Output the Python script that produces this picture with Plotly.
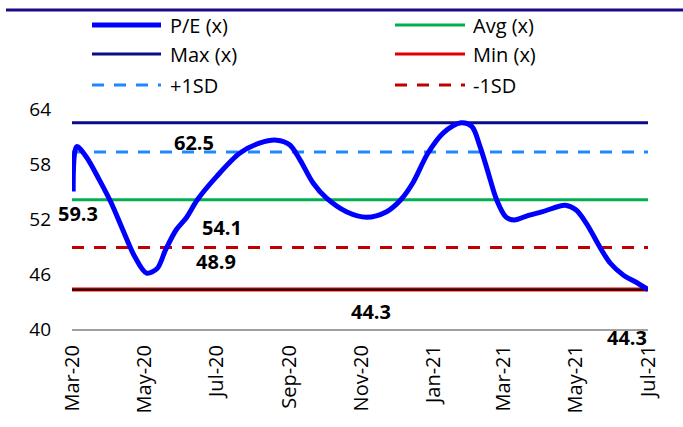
import plotly.graph_objects as go

# P/E (x) history
pe_dates = [
    "2020-03-02", "2020-03-05", "2020-03-13", "2020-03-24", "2020-04-03",
    "2020-04-13", "2020-04-23", "2020-05-03", "2020-05-12",
    "2020-05-19", "2020-05-28", "2020-06-06", "2020-06-15", "2020-07-01",
    "2020-07-21", "2020-08-07", "2020-08-21", "2020-09-01", "2020-09-10",
    "2020-09-21", "2020-10-02", "2020-10-19", "2020-11-05", "2020-11-22",
    "2020-12-04", "2020-12-14", "2020-12-27", "2021-01-09", "2021-01-24",
    "2021-02-02", "2021-02-09", "2021-02-16", "2021-02-23", "2021-03-03",
    "2021-03-10", "2021-03-22", "2021-04-03", "2021-04-22", "2021-05-01",
    "2021-05-10", "2021-05-21", "2021-05-30", "2021-06-10", "2021-06-21",
    "2021-07-01",
]
pe_values = [
    55.0, 59.9, 58.8, 56.3, 53.8,
    50.8, 47.9, 46.1, 46.6,
    48.6, 50.8, 52.2, 54.1, 56.6,
    59.2, 60.3, 60.6, 60.1, 58.4,
    55.9, 54.3, 52.8, 52.2, 52.8,
    54.1, 55.9, 59.2, 61.4, 62.5,
    62.1, 59.9, 57.0, 54.1, 52.2,
    51.9, 52.4, 52.8, 53.5, 53.0,
    51.5, 49.0, 47.2, 45.9, 45.1,
    44.3,
]

# Summary statistics
max_pe = 62.5
avg_pe = 54.1
min_pe = 44.3
plus_1sd = 59.3
minus_1sd = 48.9

x_start, x_end = "2020-03-01", "2021-07-01"
tick_dates = ["2020-03-01", "2020-05-01", "2020-07-01", "2020-09-01", "2020-11-01",
              "2021-01-01", "2021-03-01", "2021-05-01", "2021-07-01"]
tick_labels = ["Mar-20", "May-20", "Jul-20", "Sep-20", "Nov-20",
               "Jan-21", "Mar-21", "May-21", "Jul-21"]
y_ticks = [40, 46, 52, 58, 64]

C_PE = "#0000FF"
C_MAX = "#0A0A8C"
C_AVG = "#00B050"
C_MIN = "#E00000"
C_P1 = "#1E88FF"
C_M1 = "#C00000"

FONT = "Open Sans"

W, H = 683, 427
ML, MR, MT, MB = 72, 35, 109, 98
PW, PH = W - ML - MR, H - MT - MB


def px_x(px):
    return (px - ML) / PW


def px_y(py):
    return (H - MB - py) / PH


fig = go.Figure()


def hline(value, color, width, dash="solid"):
    fig.add_trace(go.Scatter(
        x=[x_start, x_end], y=[value, value], mode="lines",
        line=dict(color=color, width=width, dash=dash),
        hoverinfo="skip", showlegend=False,
    ))


hline(max_pe, C_MAX, 3)
hline(avg_pe, C_AVG, 2.8)
hline(min_pe, C_MIN, 4)
hline(min_pe, "#000000", 1.6)
hline(plus_1sd, C_P1, 3, "12px,10px")
hline(minus_1sd, C_M1, 3, "12px,10px")

fig.add_trace(go.Scatter(
    x=pe_dates, y=pe_values, mode="lines",
    line=dict(color=C_PE, width=5, shape="spline", smoothing=0.9),
    showlegend=False,
))

# Value labels
label_font = dict(family=FONT, size=20, color="#000000", weight="bold")
value_labels = [
    ("2020-06-12", max_pe, -20),
    ("2020-03-06", plus_1sd, -61),
    ("2020-07-06", avg_pe, -28),
    ("2020-07-01", minus_1sd, -14),
    ("2020-11-09", min_pe, -22),
    ("2021-06-13", pe_values[-1], -48),
]
for xd, v, dy in value_labels:
    fig.add_annotation(x=xd, y=v, text=f"{v:.1f}", showarrow=False,
                       yshift=dy, font=label_font, xanchor="center", yanchor="middle")

# Header rule
fig.add_shape(type="line", xref="paper", yref="paper",
              x0=px_x(6), x1=px_x(683), y0=px_y(10), y1=px_y(10),
              line=dict(color="#1B0A87", width=3))

# Legend
legend_items = [
    ("P/E (x)", C_PE, 5, "solid", 92, 161, 168, 25),
    ("Avg (x)", C_AVG, 3, "solid", 395, 465, 471, 25),
    ("Max (x)", C_MAX, 3, "solid", 92, 161, 168, 54),
    ("Min (x)", C_MIN, 3, "solid", 395, 465, 471, 54),
    ("+1SD", C_P1, 3, "12px,10px", 92, 161, 168, 85),
    ("-1SD", C_M1, 3, "12px,10px", 395, 465, 471, 85),
]
for name, color, width, dash, lx0, lx1, tx, ty in legend_items:
    fig.add_shape(type="line", xref="paper", yref="paper",
                  x0=px_x(lx0), x1=px_x(lx1), y0=px_y(ty), y1=px_y(ty),
                  line=dict(color=color, width=width, dash=dash))
    fig.add_annotation(xref="paper", yref="paper", x=px_x(tx), y=px_y(ty),
                       text=name, showarrow=False, xanchor="left", yanchor="middle",
                       font=dict(family=FONT, size=20, color="#000000"))

fig.update_layout(
    width=W, height=H,
    margin=dict(l=ML, r=MR, t=MT, b=MB),
    paper_bgcolor="#FFFFFF", plot_bgcolor="#FFFFFF",
    showlegend=False,
    font=dict(family=FONT, size=19, color="#000000"),
)
fig.update_xaxes(
    type="date", range=[x_start, x_end],
    tickvals=tick_dates, ticktext=tick_labels, tickangle=-90,
    tickfont=dict(family=FONT, size=20, color="#000000"),
    showgrid=False, zeroline=False,
    showline=True, linecolor="#A0A0A0", linewidth=2,
    ticks="", ticklabelstandoff=6,
)
fig.update_yaxes(
    range=[40, 64], tickvals=y_ticks,
    tickfont=dict(family=FONT, size=19, color="#000000"),
    showgrid=False, zeroline=False, showline=False,
    ticks="", ticklabelstandoff=20,
)

fig.write_html("out.html")
